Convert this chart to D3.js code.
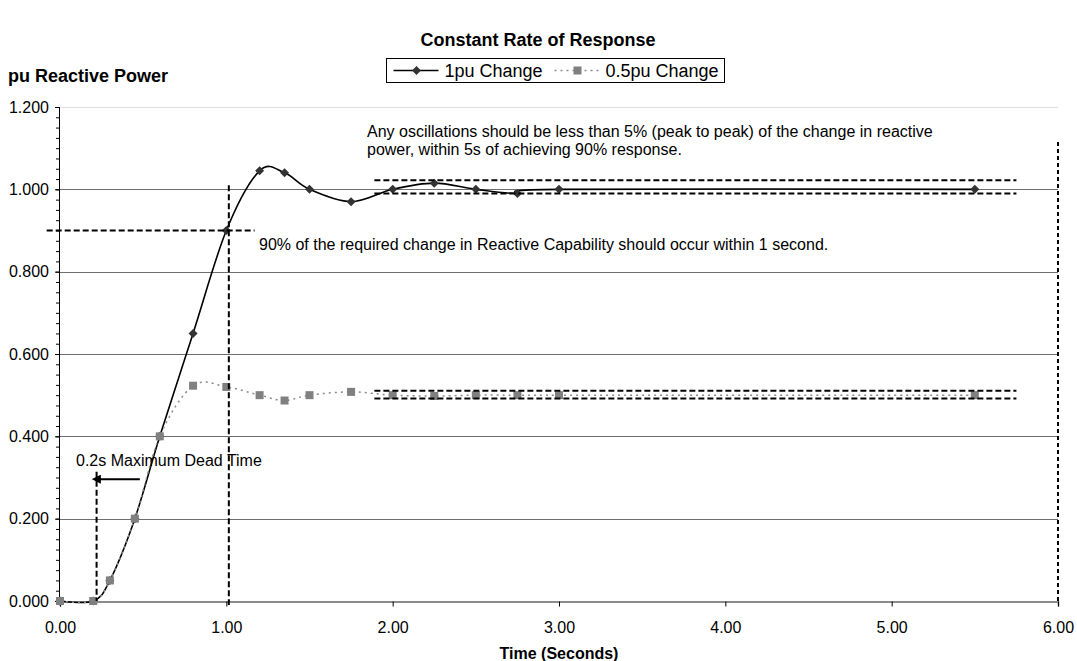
<!DOCTYPE html>
<html>
  <head>
    <meta charset="UTF-8" />
    <title>Constant Rate of Response</title>
    <style>
      body { margin: 0; background: #fff; }
      svg { font-family: 'Liberation Sans', Arial, sans-serif; }
      .axis text { font-size: 16px; fill: #000; }
    </style>
  </head>
  <body>
    <svg width="1077" height="661"></svg>
    <script src="https://cdnjs.cloudflare.com/ajax/libs/d3/7.8.5/d3.min.js"></script>
    <script>
      // time (s) and pu reactive power
      const times = [0, 0.2, 0.3, 0.45, 0.6, 0.8, 1.0, 1.2, 1.35, 1.5, 1.75, 2.0, 2.25, 2.5, 2.75, 3.0, 5.5];
      const fullChange = [0, 0, 0.05, 0.2, 0.4, 0.65, 0.9, 1.045, 1.04, 1.0, 0.97, 1.0, 1.015, 1.0, 0.99, 1.0, 1.0];
      const halfChange = [0, 0, 0.05, 0.2, 0.4, 0.523, 0.52, 0.5, 0.487, 0.5, 0.508, 0.5, 0.498, 0.5, 0.5, 0.5, 0.5];
      const seriesNames = ['1pu Change', '0.5pu Change'];
      const yTicks = [0, 0.2, 0.4, 0.6, 0.8, 1.0, 1.2];
      const xTicks = [0, 1, 2, 3, 4, 5, 6];

      // dashed guide lines, in data units [x1, y1, x2, y2]
      const guides = [
        [-0.08, 0.9, 1.17, 0.9],
        [1.015, 1.01, 1.015, -0.01],
        [0.22, 0.314, 0.22, 0],
        [1.89, 1.022, 5.75, 1.022],
        [1.89, 0.99, 5.75, 0.99],
        [1.89, 0.511, 5.75, 0.511],
        [1.89, 0.492, 5.75, 0.492],
      ];
      const endLine = [6, 1.115, 6, 0];
      const deadTimeArrow = [0.48, 0.296, 0.235, 0.296];

      const svg = d3.select('svg');
      const margin = { top: 107, right: 19, bottom: 60, left: 60 };
      const width = +svg.attr('width');
      const height = +svg.attr('height');

      const x = d3.scaleLinear().domain([0, 6]).range([margin.left, width - margin.right]);
      const y = d3.scaleLinear().domain([0, 1.2]).range([height - margin.bottom, margin.top]);

      const defs = svg.append('defs');
      defs.append('marker')
        .attr('id', 'arrow')
        .attr('viewBox', '0 0 10 10')
        .attr('refX', 2)
        .attr('refY', 5)
        .attr('markerWidth', 4.5)
        .attr('markerHeight', 4.5)
        .attr('orient', 'auto-start-reverse')
        .append('path')
        .attr('d', 'M0,0 L10,5 L0,10 Z')
        .attr('fill', '#000');

      // gridlines
      svg.append('g')
        .selectAll('line')
        .data(yTicks.filter((d) => d > 0))
        .join('line')
        .attr('x1', x(0))
        .attr('x2', x(6))
        .attr('y1', (d) => Math.round(y(d)) + 0.5)
        .attr('y2', (d) => Math.round(y(d)) + 0.5)
        .attr('stroke', (d) => (d === 1.2 ? '#e0e0e0' : '#6e6e6e'))
        .attr('stroke-width', 1);

      // y axis: minor then major
      svg.append('g')
        .attr('transform', `translate(${x(0)},0)`)
        .call(d3.axisLeft(y).tickValues(d3.range(0, 1.2001, 0.025)).tickSize(4).tickFormat(''))
        .call((g) => g.select('.domain').remove())
        .selectAll('line').attr('stroke', '#000');

      const yAxis = svg.append('g')
        .attr('class', 'axis')
        .attr('transform', `translate(${x(0)},0)`)
        .call(d3.axisLeft(y).tickValues(yTicks).tickSize(5).tickPadding(6).tickFormat(d3.format('.3f')));
      yAxis.select('.domain').attr('stroke', '#000').attr('d', `M-0.5,${y(1.2)}V${y(0)}`);

      const xAxis = svg.append('g')
        .attr('class', 'axis')
        .attr('transform', `translate(0,${Math.round(y(0)) + 0.5})`)
        .call(d3.axisBottom(x).tickValues(xTicks).tickSize(5).tickPadding(15).tickFormat(d3.format('.2f')));
      xAxis.select('.domain').attr('stroke', '#666').attr('stroke-width', 1.5);
      xAxis.selectAll('.tick line').attr('stroke', '#000');

      const toPts = (vals) => times.map((t, i) => [t, vals[i]]);
      const line = d3.line()
        .x((d) => x(d[0]))
        .y((d) => y(d[1]))
        .curve(d3.curveCatmullRom.alpha(0));

      // 1pu series
      svg.append('path')
        .attr('d', line(toPts(fullChange)))
        .attr('fill', 'none')
        .attr('stroke', '#000')
        .attr('stroke-width', 1.6);

      const diamond = 'M0,-4.5L4.5,0L0,4.5L-4.5,0Z';
      svg.append('g')
        .selectAll('path')
        .data(toPts(fullChange))
        .join('path')
        .attr('transform', (d) => `translate(${x(d[0])},${y(d[1])})`)
        .attr('d', diamond)
        .attr('fill', '#333');

      // 0.5pu series
      svg.append('path')
        .attr('d', line(toPts(halfChange)))
        .attr('fill', 'none')
        .attr('stroke', '#8a8a8a')
        .attr('stroke-width', 1.5)
        .attr('stroke-dasharray', '2,4');

      svg.append('g')
        .selectAll('rect')
        .data(toPts(halfChange))
        .join('rect')
        .attr('x', (d) => x(d[0]) - 4)
        .attr('y', (d) => y(d[1]) - 4)
        .attr('width', 8)
        .attr('height', 8)
        .attr('fill', '#808080');

      // dashed guides
      svg.append('g')
        .selectAll('line')
        .data(guides)
        .join('line')
        .attr('x1', (d) => x(d[0]))
        .attr('y1', (d) => y(d[1]))
        .attr('x2', (d) => x(d[2]))
        .attr('y2', (d) => y(d[3]))
        .attr('stroke', '#000')
        .attr('stroke-width', 2)
        .attr('stroke-dasharray', '6,3');

      svg.append('line')
        .attr('x1', x(endLine[0]))
        .attr('y1', y(endLine[1]))
        .attr('x2', x(endLine[2]))
        .attr('y2', y(endLine[3]))
        .attr('stroke', '#000')
        .attr('stroke-width', 2)
        .attr('stroke-dasharray', '4,3');

      svg.append('line')
        .attr('x1', x(deadTimeArrow[0]))
        .attr('y1', y(deadTimeArrow[1]))
        .attr('x2', x(deadTimeArrow[2]))
        .attr('y2', y(deadTimeArrow[3]))
        .attr('stroke', '#000')
        .attr('stroke-width', 2)
        .attr('marker-end', 'url(#arrow)');

      // texts
      const note = (tx, ty, str, size, weight, anchor) =>
        svg.append('text')
          .attr('x', tx)
          .attr('y', ty)
          .attr('font-size', size)
          .attr('font-weight', weight || 'normal')
          .attr('text-anchor', anchor || 'start')
          .text(str);

      note(538, 46, 'Constant Rate of Response', 18, 'bold', 'middle');
      note(8, 82, 'pu Reactive Power', 18, 'bold');
      note((x(0) + x(6)) / 2, 659, 'Time (Seconds)', 16, 'bold', 'middle');
      note(367, 137, 'Any oscillations should be less than 5% (peak to peak) of the change in reactive', 16);
      note(367, 155, 'power, within 5s of achieving 90% response.', 16);
      note(259, 250, '90% of the required change in Reactive Capability should occur within 1 second.', 16);
      note(76, 466, '0.2s Maximum Dead Time', 16);

      // legend
      const legend = svg.append('g').attr('transform', 'translate(386.5,58.5)');
      legend.append('rect')
        .attr('width', 338)
        .attr('height', 24)
        .attr('fill', '#fff')
        .attr('stroke', '#000');
      legend.append('line')
        .attr('x1', 7).attr('x2', 52).attr('y1', 12).attr('y2', 12)
        .attr('stroke', '#000').attr('stroke-width', 1.6);
      legend.append('path')
        .attr('transform', 'translate(30,12)')
        .attr('d', diamond)
        .attr('fill', '#333');
      legend.append('text').attr('x', 58).attr('y', 18.5).attr('font-size', 18).text(seriesNames[0]);
      legend.append('line')
        .attr('x1', 168).attr('x2', 216).attr('y1', 12).attr('y2', 12)
        .attr('stroke', '#8a8a8a').attr('stroke-width', 1.5).attr('stroke-dasharray', '2,4');
      legend.append('rect')
        .attr('x', 187).attr('y', 8).attr('width', 8).attr('height', 8)
        .attr('fill', '#808080');
      legend.append('text').attr('x', 219).attr('y', 18.5).attr('font-size', 18).text(seriesNames[1]);
    </script>
  </body>
</html>
